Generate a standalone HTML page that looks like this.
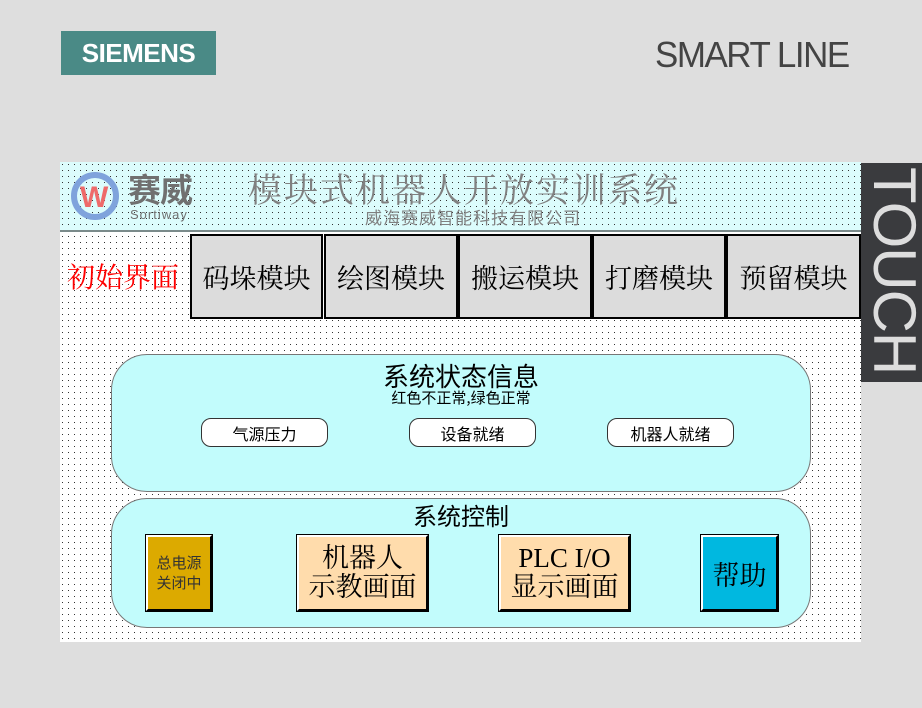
<!DOCTYPE html>
<html><head><meta charset="utf-8"><style>
*{margin:0;padding:0;box-sizing:border-box}
body{width:922px;height:708px;background:#dedede;position:relative;overflow:hidden;font-family:"Liberation Sans","Noto Sans CJK SC",sans-serif}
.a{position:absolute}
.tab{position:absolute;top:234px;height:85px;background:#dcdcdc;border:2px solid #000;font-family:"Liberation Serif","Noto Serif CJK SC",serif;font-size:27px;display:flex;align-items:center;justify-content:center;color:#000}
.panel{position:absolute;left:111px;width:700px;background:#c2fcfc;border:1px solid #777;border-radius:36px}
.pill{position:absolute;top:418px;width:127px;height:29px;background:#fff;border:1px solid #333;border-radius:10px;font-size:16px;display:flex;align-items:center;justify-content:center;font-family:"Noto Sans CJK SC",sans-serif}
.btn{position:absolute;top:535px;height:76px;border:2px solid #000;border-left-color:#fff;border-top-color:#fff;outline:1px solid #000;display:flex;align-items:center;justify-content:center;text-align:center;font-family:"Liberation Serif","Noto Serif CJK SC",serif;color:#000}
</style></head><body>
<div class="a" style="left:61px;top:31px;width:155px;height:44px;background:#4a8a86;color:#fff;font-weight:bold;font-size:26px;line-height:44px;text-align:center;letter-spacing:-0.5px">SIEMENS</div>
<div class="a" style="left:655px;top:34px;font-size:36px;color:#444;letter-spacing:-1.5px;transform:scaleX(0.97);transform-origin:left;white-space:nowrap">SMART LINE</div>

<svg class="a" style="left:60px;top:162px" width="801" height="480">
<defs>
<pattern id="pw" width="6" height="6" patternUnits="userSpaceOnUse"><rect width="6" height="6" fill="#fff"/><rect x="2" y="2" width="1" height="1" fill="#333"/></pattern>
<pattern id="pc" width="6" height="6" patternUnits="userSpaceOnUse"><rect width="6" height="6" fill="#dcfcfc"/><rect x="2" y="2" width="1" height="1" fill="#333"/></pattern>
</defs>
<rect width="801" height="480" fill="url(#pw)"/>
<rect width="801" height="68" fill="url(#pc)"/>
<rect y="68" width="801" height="2" fill="#7a8a8a"/>
</svg>

<svg class="a" style="left:66px;top:166px" width="140" height="60">
<circle cx="29" cy="30" r="21" fill="none" stroke="#7fa3dc" stroke-width="6"/>
<text x="14" y="41" font-size="30" font-weight="bold" fill="#ee6a6a" font-family="Liberation Sans">W</text>
<text x="62" y="36" font-size="33" font-weight="bold" fill="#707070" font-family="Noto Sans CJK SC" letter-spacing="-1">赛威</text>
<text x="64" y="53" font-size="13" fill="#707070" font-family="Liberation Sans" letter-spacing="1">Sortiway</text>
</svg>
<div class="a" style="left:248px;top:163px;font-size:34px;color:#808080;font-family:'Liberation Serif','Noto Serif CJK SC',serif;letter-spacing:2px;white-space:nowrap">模块式机器人开放实训系统</div>
<div class="a" style="left:365px;top:204px;font-size:17px;color:#808080;font-family:'Noto Sans CJK SC',sans-serif;letter-spacing:1px;white-space:nowrap">威海赛威智能科技有限公司</div>

<div class="a" style="left:861px;top:163px;width:61px;height:219px;background:#3a3b3e;overflow:hidden"><div style="position:absolute;left:62px;top:4px;transform:rotate(90deg);transform-origin:0 0;font-size:60px;color:#ddd;white-space:nowrap;line-height:58px;letter-spacing:-1px">TOUCH</div></div>

<div class="a" style="left:67px;top:256px;font-size:28px;color:#f00;font-family:'Liberation Serif','Noto Serif CJK SC',serif">初始界面</div>
<div class="tab" style="left:190px;width:133px">码垛模块</div>
<div class="tab" style="left:324px;width:134px">绘图模块</div>
<div class="tab" style="left:458px;width:134px">搬运模块</div>
<div class="tab" style="left:592px;width:134px">打磨模块</div>
<div class="tab" style="left:726px;width:135px">预留模块</div>

<div class="panel" style="top:354px;height:138px"></div>
<div class="a" style="left:111px;top:361px;width:700px;text-align:center;font-size:26px;font-family:'Noto Sans CJK SC',sans-serif;line-height:30px">系统状态信息</div>
<div class="a" style="left:111px;top:389px;width:700px;text-align:center;font-size:15px;font-family:'Noto Sans CJK SC',sans-serif;line-height:17px">红色不正常,绿色正常</div>
<div class="pill" style="left:201px">气源压力</div>
<div class="pill" style="left:409px">设备就绪</div>
<div class="pill" style="left:607px">机器人就绪</div>

<div class="panel" style="top:498px;height:130px"></div>
<div class="a" style="left:111px;top:500px;width:700px;text-align:center;font-size:24px;font-family:'Noto Sans CJK SC',sans-serif;line-height:30px">系统控制</div>
<div class="btn" style="left:146px;width:66px;background:#dcaa00;font-size:15px;line-height:20px;font-family:'Noto Sans CJK SC',sans-serif;color:#333">总电源<br>关闭中</div>
<div class="btn" style="left:297px;width:131px;background:#ffdcac;font-size:27px;line-height:29px">机器人<br>示教画面</div>
<div class="btn" style="left:499px;width:131px;background:#ffdcac;font-size:27px;line-height:29px">PLC I/O<br>显示画面</div>
<div class="btn" style="left:701px;width:77px;background:#00b8e0;font-size:27px">帮助</div>
</body></html>
